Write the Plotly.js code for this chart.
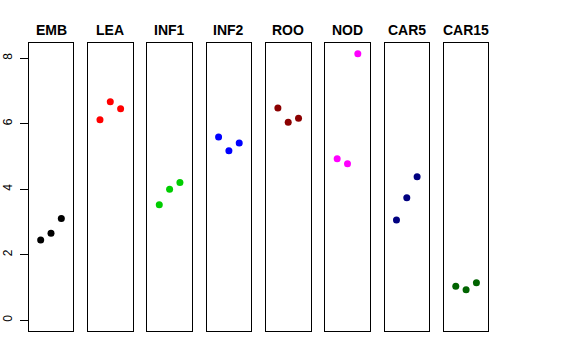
<!DOCTYPE html>
<html><head><meta charset="utf-8">
<script src="https://cdn.plot.ly/plotly-3.0.1.min.js"></script>
<style>html,body{margin:0;padding:0;background:#fff}</style>
</head><body><div id="chart" style="width:576px;height:360px"></div>
<script>
const panels = ["EMB","LEA","INF1","INF2","ROO","NOD","CAR5","CAR15"];
const colors = ["#000000","#ff0000","#00cd00","#0000ff","#8b0000","#ff00ff","#000080","#006400"];
const xpos = [1,2,3];
const EMB = [2.45,2.66,3.11];
const LEA = [6.12,6.67,6.46];
const INF1 = [3.53,4.00,4.21];
const INF2 = [5.60,5.18,5.41];
const ROO = [6.48,6.05,6.17];
const NOD = [4.93,4.78,8.14];
const CAR5 = [3.06,3.74,4.38];
const CAR15 = [1.04,0.93,1.15];
const series = [EMB,LEA,INF1,INF2,ROO,NOD,CAR5,CAR15];
const yticks = [0,2,4,6,8];

const W = 576, H = 360;
const left0 = 28.7, pitch = 59.3, pw = 44.6;
const yTop = 43, yBot = 331;
const yrange = [-0.327, 8.467];
const xrange = [-0.16, 4.16];

const data = [];
const layout = {
  width: W, height: H,
  margin: {l:0,r:0,t:0,b:0},
  paper_bgcolor: "#fff", plot_bgcolor: "#fff",
  showlegend: false,
  font: {family: "Liberation Sans, Arial, sans-serif", color: "#000"},
  annotations: []
};
panels.forEach((p,i) => {
  const sfx = i === 0 ? "" : String(i+1);
  data.push({
    type: "scatter", mode: "markers",
    x: xpos, y: series[i],
    xaxis: "x" + sfx, yaxis: "y" + sfx,
    marker: {color: colors[i], size: 7},
    hoverinfo: "skip"
  });
  const l = left0 + i*pitch;
  layout["xaxis" + sfx] = {
    domain: [l/W, (l+pw)/W], range: xrange,
    showgrid: false, zeroline: false, showticklabels: false, ticks: "",
    showline: true, mirror: true, linecolor: "#000", linewidth: 1,
    anchor: "y" + sfx, fixedrange: true
  };
  const ya = {
    domain: [(H-yBot)/H, (H-yTop)/H], range: yrange,
    showgrid: false, zeroline: false,
    showline: true, mirror: true, linecolor: "#000", linewidth: 1,
    anchor: "x" + sfx, fixedrange: true
  };
  if (i === 0) {
    Object.assign(ya, {
      tickmode: "array", tickvals: yticks, ticktext: yticks.map(String),
      ticks: "outside", ticklen: 8, tickcolor: "#000", tickwidth: 1,
      tickangle: -90, tickfont: {size: 12, color: "#000"}, automargin: false,
      ticklabelstandoff: 3
    });
  } else {
    Object.assign(ya, {showticklabels: false, ticks: ""});
  }
  layout["yaxis" + sfx] = ya;
  layout.annotations.push({
    text: "<b>" + p + "</b>", xref: "paper", yref: "paper",
    x: (l + pw/2)/W, y: (H-30)/H, xanchor: "center", yanchor: "middle",
    showarrow: false, font: {size: 14, color: "#000"}
  });
});
Plotly.newPlot("chart", data, layout, {staticPlot: true, displayModeBar: false});
</script></body></html>
